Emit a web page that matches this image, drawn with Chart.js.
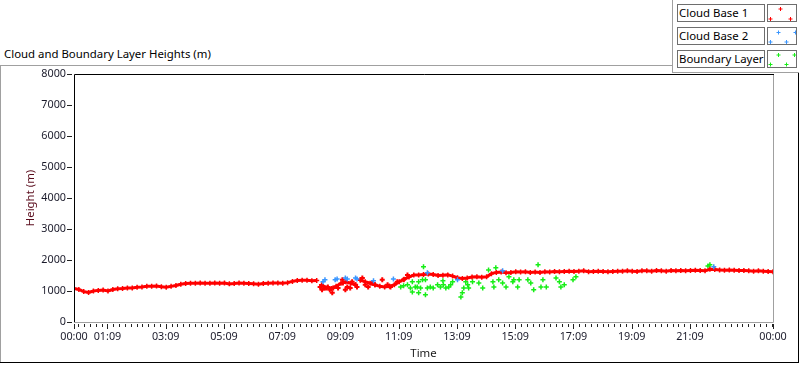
<!DOCTYPE html>
<html>
<head>
<meta charset="utf-8">
<script src="https://cdn.jsdelivr.net/npm/chart.js@4.4.1/dist/chart.umd.min.js"></script>
<style>
  html,body{margin:0;padding:0;background:#fff;}
  #wrap{position:relative;width:800px;height:365px;overflow:hidden;font-family:"Noto Sans",sans-serif;}
  .ln{position:absolute;}
  #title{position:absolute;left:4px;top:46px;font-size:11.4px;line-height:15px;color:#000;white-space:nowrap;}
  .lbox{position:absolute;left:677px;width:85px;height:16px;border:1px solid #6e6e6e;background:#fff;font-size:11.4px;line-height:16px;padding-left:1px;color:#000;white-space:nowrap;box-sizing:content-box;overflow:hidden;}
  .sbox{position:absolute;left:767px;width:28px;height:16px;border:1px solid #6e6e6e;background:#fff;}
  canvas{position:absolute;left:0;top:0;}
</style>
</head>
<body>
<div id="wrap">
  <div class="ln" style="left:0;top:65px;width:673px;height:1px;background:#a0a0a0"></div>
  <div class="ln" style="left:0;top:65px;width:1px;height:298px;background:#a0a0a0"></div>
  <div class="ln" style="left:0;top:362px;width:799px;height:1px;background:#000"></div>
  <div class="ln" style="left:798px;top:72px;width:1px;height:291px;background:#000"></div>
  <div class="ln" style="left:672px;top:0;width:1px;height:73px;background:#a0a0a0"></div>
  <div class="ln" style="left:672px;top:72px;width:127px;height:1px;background:#a0a0a0"></div>
  <div id="title">Cloud and Boundary Layer Heights (m)</div>
  <div id="legend"></div>
  <canvas id="c" width="800" height="365"></canvas>
</div>
<script>
// ---------- DATA ----------
const seriesNames = ['Cloud Base 1', 'Cloud Base 2', 'Boundary Layer'];
const sampleStepMinutes = 10;
// Cloud Base 1 (m), one reading every 10 minutes from 00:00 to 24:00
const cloudBase1 = [
 1080,1050,980,950,1000,1020,1030,1000,1050,1070,1080,1100,1100,1120,1130,1150,1150,1160,1140,1120,
 1150,1180,1220,1240,1250,1250,1260,1250,1250,1260,1250,1260,1230,1240,1260,1250,1240,1230,1220,1240,
 1250,1260,1260,1250,1270,1310,1340,1350,1350,1330,1340,1200,1100,1080,1150,1250,1300,1250,1200,1350,
 1300,1250,1200,1150,1130,1150,1200,1300,1380,1450,1520,1520,1530,1550,1530,1500,1510,1520,1480,1430,
 1400,1420,1450,1460,1440,1460,1560,1600,1610,1590,1600,1620,1610,1620,1600,1610,1600,1620,1610,1630,
 1620,1630,1640,1630,1640,1650,1620,1630,1640,1630,1620,1630,1640,1640,1650,1640,1630,1650,1650,1640,
 1660,1650,1640,1660,1650,1660,1650,1660,1670,1660,1650,1700,1690,1680,1670,1680,1670,1660,1660,1650,
 1640,1650,1640,1630,1620
];
// Scattered extra Cloud Base 1 returns (minutes after 00:00, m)
const cloudBase1ExtraMin = [507,511,517,523,527,532,534,544,553,554,559,563,569,573,580,583,590,594,600,606,614,620,635,646,652,666,679,687];
const cloudBase1ExtraVal = [1130,1040,1100,1130,1040,940,1100,1100,1360,1260,1040,1130,1100,1300,1200,1130,1360,1420,1200,1130,1260,1200,1360,1200,1130,1300,1360,1520];
// Cloud Base 2
const cloudBase2Min = [513,517,538,542,559,563,580,583,617,658,728,790,883,1318];
const cloudBase2Val = [1300,1360,1360,1390,1420,1390,1420,1390,1330,1390,1590,1360,1650,1780];
// Boundary Layer
const boundaryMin = [673,679,687,693,697,697,703,707,710,710,714,718,720,724,724,728,734,740,749,755,760,761,766,772,776,780,797,800,803,807,811,813,821,834,842,854,863,865,869,875,883,890,896,904,906,914,917,935,941,947,956,962,966,973,993,1000,1003,1010,1028,1034,1306,1310];
const boundaryVal = [1130,1170,1200,1100,1300,970,1130,1130,1300,940,1100,1360,1780,1360,880,1100,1130,1100,1200,1130,1330,1200,1100,1130,1200,1300,810,940,1100,1300,1200,1100,1300,1260,1100,1680,1300,1130,1750,1360,1260,1130,1460,1300,1360,1130,1360,1360,1260,1040,1850,1130,1360,1130,1420,1300,1130,1200,1360,1460,1810,1850];
// Axis ticks
const yTicks = [0,1000,2000,3000,4000,5000,6000,7000,8000];
const xTickMinutes = [0,69,189,309,429,549,669,789,909,1029,1149,1269,1440];
const xTickLabels = ['00:00','01:09','03:09','05:09','07:09','09:09','11:09','13:09','15:09','17:09','19:09','21:09','00:00'];
const xMinorStep = 12; // minutes
const xMinorOffset = 9;

// ---------- BUILD ----------
const colors = ['#ff0000', '#3a96ff', '#16ee16'];
const cb1Pts = cloudBase1.map((v, i) => ({x: i * sampleStepMinutes, y: v}));
const cb1ExtraPts = cloudBase1ExtraMin.map((m, i) => ({x: m, y: cloudBase1ExtraVal[i]}));
const cb2Pts = cloudBase2Min.map((m, i) => ({x: m, y: cloudBase2Val[i]}));
const blPts = boundaryMin.map((m, i) => ({x: m, y: boundaryVal[i]}));

// HTML legend
const legendSymbols = [
  [[12,2.5],[2,12.5],[22,12.5]],
  [[10,3],[27,3],[2,12.5],[18,12.5]],
  [[10,2.5],[26,2.5],[2,12],[18,12]]
];
const legendTops = [4, 27, 50];
const lg = document.getElementById('legend');
seriesNames.forEach((name, k) => {
  const b = document.createElement('div');
  b.className = 'lbox'; b.style.top = legendTops[k] + 'px'; b.textContent = name;
  lg.appendChild(b);
  const s = document.createElement('div');
  s.className = 'sbox'; s.style.top = legendTops[k] + 'px';
  let svg = '<svg width="28" height="16" xmlns="http://www.w3.org/2000/svg">';
  legendSymbols[k].forEach(([cx, cy]) => {
    svg += `<path d="M${cx-1.5} ${cy+0.5}H${cx+2.5}M${cx+0.5} ${cy-1.5}V${cy+2.5}" stroke="${colors[k]}" stroke-width="1" fill="none"/>`;
  });
  svg += '</svg>';
  s.innerHTML = svg;
  lg.appendChild(s);
});

const framePlugin = {
  id: 'frame',
  afterDraw(chart) {
    const {ctx, chartArea: a, scales} = chart;
    ctx.save();
    ctx.lineWidth = 1;
    // plot border
    ctx.strokeStyle = '#a0a0a0';
    ctx.beginPath();
    ctx.moveTo(a.right + 0.5, a.top); ctx.lineTo(a.right + 0.5, a.bottom + 0.5);
    ctx.lineTo(a.left, a.bottom + 0.5);
    ctx.stroke();
    ctx.strokeStyle = '#000';
    ctx.beginPath();
    ctx.moveTo(a.left + 0.5, a.bottom); ctx.lineTo(a.left + 0.5, a.top + 0.5);
    ctx.lineTo(a.right + 1, a.top + 0.5);
    ctx.stroke();
    // y tick marks
    ctx.strokeStyle = '#222';
    ctx.beginPath();
    yTicks.forEach(v => {
      const y = Math.round(scales.y.getPixelForValue(v)) + 0.5;
      ctx.moveTo(a.left - 7, y); ctx.lineTo(a.left - 2, y);
    });
    ctx.stroke();
    // x tick marks
    ctx.beginPath();
    for (let m = xMinorOffset; m < 1440; m += xMinorStep) {
      const x = Math.round(scales.x.getPixelForValue(m)) + 0.5;
      ctx.moveTo(x, a.bottom + 2); ctx.lineTo(x, a.bottom + 5);
    }
    xTickMinutes.forEach(m => {
      const x = Math.round(scales.x.getPixelForValue(m)) + 0.5;
      ctx.moveTo(x, a.bottom + 2); ctx.lineTo(x, a.bottom + 7);
    });
    ctx.stroke();
    ctx.restore();
  }
};

const tickFont = {family: '"Noto Sans", sans-serif', size: 10.8};
new Chart(document.getElementById('c'), {
  type: 'scatter',
  data: {
    datasets: [
      {label: seriesNames[2], data: blPts, pointStyle: 'cross', pointRadius: 2.5, pointBorderWidth: 1.5,
       borderColor: colors[2], backgroundColor: colors[2], showLine: false, order: 3},
      {label: seriesNames[0], data: cb1ExtraPts, pointStyle: 'cross', pointRadius: 2.5, pointBorderWidth: 2,
       borderColor: colors[0], backgroundColor: colors[0], showLine: false, order: 2},
      {label: seriesNames[0], data: cb1Pts, pointStyle: 'cross', pointRadius: 2.5, pointBorderWidth: 1.5,
       borderColor: colors[0], backgroundColor: colors[0], showLine: true, borderWidth: 3,
       segment: {borderColor: c => Math.abs(c.p0.parsed.y - c.p1.parsed.y) > 110 ? 'rgba(0,0,0,0)' : undefined},
       order: 1},
      {label: seriesNames[1], data: cb2Pts, pointStyle: 'cross', pointRadius: 2.5, pointBorderWidth: 1.5,
       borderColor: colors[1], backgroundColor: colors[1], showLine: false, order: 0}
    ]
  },
  options: {
    responsive: false, animation: false, devicePixelRatio: 1,
    layout: {padding: {left: 0, top: 74, right: 27, bottom: 0}},
    plugins: {legend: {display: false}, tooltip: {enabled: false}, title: {display: false}},
    scales: {
      x: {
        type: 'linear', min: 0, max: 1440,
        grid: {display: false, drawTicks: false, tickLength: 0}, border: {display: false},
        afterBuildTicks: s => { s.ticks = xTickMinutes.map(v => ({value: v})); },
        afterFit: s => { s.height = 43; },
        ticks: {autoSkip: false, maxRotation: 0, padding: 8, color: '#1b1b2b', font: tickFont,
                callback: (v, i) => xTickLabels[i]},
        title: {display: true, text: 'Time', color: '#1b1b1b', font: {family: '"Noto Sans", sans-serif', size: 11.4}, padding: {top: 0, bottom: 4}}
      },
      y: {
        min: 0, max: 8000,
        grid: {display: false, drawTicks: false, tickLength: 0}, border: {display: false},
        afterBuildTicks: s => { s.ticks = yTicks.map(v => ({value: v})); },
        afterFit: s => { s.width = 74; },
        ticks: {padding: 8, color: '#1b1b2b', font: tickFont, callback: v => String(v)},
        title: {display: true, text: 'Height (m)', color: '#5a0c1c', font: {family: '"Noto Sans", sans-serif', size: 11.4}, padding: {top: 24, bottom: 0}}
      }
    }
  },
  plugins: [framePlugin]
});
</script>
</body>
</html>
